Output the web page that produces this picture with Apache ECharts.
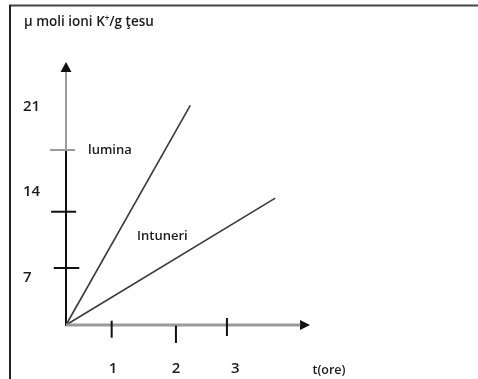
<!DOCTYPE html>
<html><head><meta charset="utf-8">
<script src="https://cdn.jsdelivr.net/npm/echarts@6/dist/echarts.min.js"></script>
<style>html,body{margin:0;padding:0;background:#fff}#c{width:478px;height:379px}</style>
</head><body><div id="c"></div>
<script>
// ---- data ----
const titleText = 'μ moli ioni K{sup|+}/g ţesu';
const seriesNames = ['lumina', 'Intuneri'];
const luminaLine = [[0, 0], [2.34, 26.4]];
const intuneriLine = [[0, 0], [3.94, 15.25]];
const xTickValues = [0.86, 2.07, 3.03];
const xTickSpan = [[0.52, -1.53], [-0.08, -2.16], [0.84, -1.32]];
const yTickValues = [6.85, 13.61, 21.03];
const yTickSpan = [[-0.23, 0.25], [-0.28, 0.19], [-0.30, 0.17]];
const xTickLabels = ['1', '2', '3'];
const xLabelAt = [0.886, 2.074, 3.186];
const yTickLabels = ['7', '14', '21'];
const yLabelAt = [5.65, 15.98, 26.19];
const xAxisName = 't(ore)';
const xMax = 4.5, yMax = 31;

const FONT = '"Open Sans", sans-serif';
const TXT = '#1c1c1c';
const chart = echarts.init(document.getElementById('c'), null, {renderer: 'canvas'});

function line(data, color, width, name) {
  return {type: 'line', name: name, data: data, symbol: 'none', clip: false, silent: true,
    lineStyle: {color: color, width: width}, z: 3};
}
// segments [x1, y1, x2, y2, colorIndex]
const segColors = ['#111', '#9a9a9a'];
const segs = [];
segs.push([0, yTickValues[2], 0, 30.4, 1]);          // light upper part of y shaft
segs.push([0, 0, 4.41, 0, 1]);                        // light x shaft
xTickValues.forEach((v, i) => segs.push([v, xTickSpan[i][0], v, xTickSpan[i][1], 0]));
yTickValues.forEach((v, i) => segs.push([yTickSpan[i][0], v, yTickSpan[i][1], v, i === 2 ? 1 : 0]));

const segSeries = {
  type: 'custom', clip: false, silent: true, z: 4,
  data: segs,
  renderItem: (params, api) => {
    const p1 = api.coord([api.value(0), api.value(1)]);
    const p2 = api.coord([api.value(2), api.value(3)]);
    const horizontalShaft = api.value(1) === 0 && api.value(3) === 0;
    return {type: 'line', shape: {x1: p1[0], y1: p1[1], x2: p2[0], y2: p2[1]},
      style: {stroke: segColors[api.value(4)], lineWidth: horizontalShaft ? 3 : 2}};
  }
};

// text items: [x, y, text, align, size]
const texts = [];
xTickLabels.forEach((t, i) => texts.push([xLabelAt[i], -5.29, t, 'center', 15]));
yTickLabels.forEach((t, i) => texts.push([-0.811, yLabelAt[i], t, 'left', 15]));
texts.push([4.64, -5.41, xAxisName, 'left', 12.5]);
texts.push([0.415, 21.03, seriesNames[0], 'left', 13]);
texts.push([1.339, 10.69, seriesNames[1], 'left', 13]);

const textSeries = {
  type: 'custom', clip: false, silent: true, z: 5,
  data: texts.map(t => ({value: [t[0], t[1]], name: t[2]})),
  renderItem: (params, api) => {
    const it = texts[params.dataIndex];
    const p = api.coord([api.value(0), api.value(1)]);
    return {type: 'text', x: p[0], y: p[1],
      style: {text: it[2], fill: TXT, fontFamily: FONT, fontSize: it[4], fontWeight: 600,
        align: it[3], verticalAlign: 'middle'}};
  }
};

chart.setOption({
  animation: false,
  backgroundColor: '#fff',
  title: {text: titleText, left: 24, top: 15, padding: 0,
    textStyle: {fontFamily: FONT, fontSize: 13.5, fontWeight: 600, color: TXT,
      rich: {sup: {fontFamily: FONT, fontSize: 8, fontWeight: 600, color: TXT, verticalAlign: 'top', padding: [0, 0, 6, 0]}}}},
  grid: {left: 66, top: 67, width: 239, height: 258},
  xAxis: {type: 'value', min: 0, max: xMax,
    axisLine: {show: true, symbol: ['none', 'triangle'], symbolSize: [10, 10], lineStyle: {color: '#111', width: 2}},
    axisTick: {show: false}, axisLabel: {show: false}, splitLine: {show: false}},
  yAxis: {type: 'value', min: 0, max: yMax,
    axisLine: {show: true, symbol: ['none', 'triangle'], symbolSize: [11, 10], lineStyle: {color: '#111', width: 2}},
    axisTick: {show: false}, axisLabel: {show: false}, splitLine: {show: false}},
  graphic: [
    {type: 'line', shape: {x1: 9, y1: 5.5, x2: 478, y2: 5.5}, style: {stroke: '#444', lineWidth: 2}},
    {type: 'line', shape: {x1: 10, y1: 5, x2: 10, y2: 379}, style: {stroke: '#222', lineWidth: 2}}
  ],
  series: [
    line(luminaLine, '#3a3a3a', 1.6, seriesNames[0]),
    line(intuneriLine, '#3a3a3a', 1.6, seriesNames[1]),
    segSeries,
    textSeries
  ]
});
</script></body></html>
